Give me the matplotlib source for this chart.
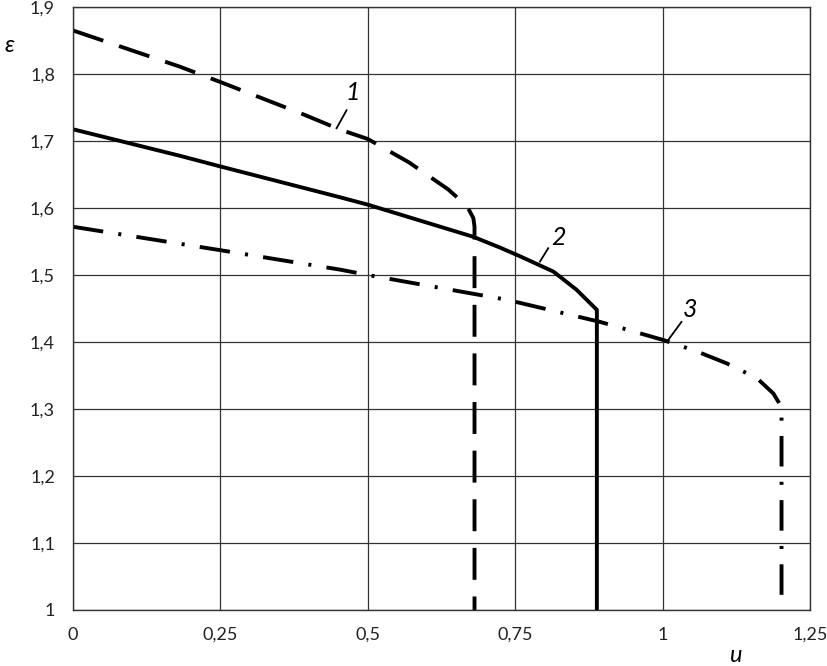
import matplotlib
matplotlib.use('Agg')
import matplotlib.pyplot as plt

plt.rcParams['font.family'] = ['Lato', 'DejaVu Sans']
plt.rcParams['lines.scale_dashes'] = False

# curve 1 (dashed)
u1 = [0, 0.181, 0.25, 0.39, 0.453, 0.5, 0.57, 0.636, 0.668, 0.679, 0.681, 0.681]
e1 = [1.865, 1.811, 1.788, 1.740, 1.717, 1.703, 1.668, 1.628, 1.603, 1.585, 1.572, 1.0]

# curve 2 (solid)
u2 = [0, 0.181, 0.25, 0.453, 0.5, 0.679, 0.724, 0.758, 0.815, 0.854, 0.8885, 0.8885]
e2 = [1.7175, 1.678, 1.662, 1.616, 1.605, 1.557, 1.541, 1.528, 1.505, 1.478, 1.448, 1.0]

# curve 3 (dash-dot)
u3 = [0, 0.25, 0.453, 0.5, 0.736, 0.894, 1.001, 1.058, 1.109, 1.160, 1.188, 1.2017, 1.2017]
e3 = [1.572, 1.537, 1.508, 1.500, 1.463, 1.430, 1.403, 1.386, 1.368, 1.346, 1.323, 1.303, 1.0]

x_ticks = [0, 0.25, 0.5, 0.75, 1, 1.25]
x_labels = ['0', '0,25', '0,5', '0,75', '1', '1,25']
y_ticks = [1, 1.1, 1.2, 1.3, 1.4, 1.5, 1.6, 1.7, 1.8, 1.9]
y_labels = ['1', '1,1', '1,2', '1,3', '1,4', '1,5', '1,6', '1,7', '1,8', '1,9']

fig = plt.figure(figsize=(8.28, 6.66), dpi=100)
ax = fig.add_axes([73 / 828, 1 - 610 / 666, (810 - 73) / 828, (610 - 7) / 666])

lw = 2.8
l1, = ax.plot(u1, e1, color='black', lw=lw, solid_capstyle='butt')
l1.set_dashes([23, 12])
ax.plot(u2, e2, color='black', lw=lw)
l3, = ax.plot(u3, e3, color='black', lw=lw)
l3.set_dashes([22, 11, 2.2, 11])

# curve labels with leader lines
ax.plot([0.447, 0.464], [1.719, 1.746], color='black', lw=1.3)
ax.text(0.474, 1.772, '1', fontsize=18, style='italic', ha='center', va='center')
ax.plot([0.792, 0.806], [1.520, 1.540], color='black', lw=1.3)
ax.text(0.824, 1.556, '2', fontsize=18, style='italic', ha='center', va='center')
ax.plot([1.007, 1.032], [1.400, 1.430], color='black', lw=1.3)
ax.text(1.046, 1.448, '3', fontsize=18, style='italic', ha='center', va='center')

ax.set_xlim(0, 1.25)
ax.set_ylim(1, 1.9)
ax.set_xticks(x_ticks)
ax.set_xticklabels(x_labels)
ax.set_yticks(y_ticks)
ax.set_yticklabels(y_labels)
ax.tick_params(length=0, labelsize=13, labelcolor='#222222')
ax.tick_params(axis='y', pad=13)
ax.tick_params(axis='x', pad=12)
ax.grid(True, color='#333333', lw=0.9)
ax.set_axisbelow(True)
for s in ax.spines.values():
    s.set_color('#333333')
    s.set_linewidth(1.0)

fig.text(10 / 828, 1 - 45 / 666, 'ε', fontsize=17, style='italic', ha='center', va='center')
fig.text(735 / 828, 1 - 655 / 666, 'u', fontsize=17, style='italic', ha='center', va='center')

plt.savefig('out.png', dpi=100)
